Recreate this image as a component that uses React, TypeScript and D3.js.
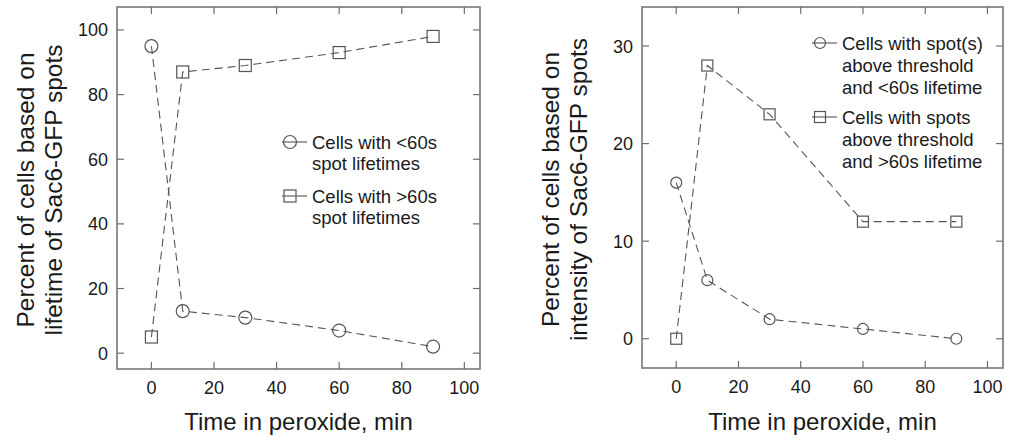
import React from "react";
import * as d3 from "d3";

const times = [0, 10, 30, 60, 90];
const lifetimeShort = [95, 13, 11, 7, 2];
const lifetimeLong = [5, 87, 89, 93, 98];
const intensityShort = [16, 6, 2, 1, 0];
const intensityLong = [0, 28, 23, 12, 12];
const xTicks = [0, 20, 40, 60, 80, 100];
const leftYTicks = [0, 20, 40, 60, 80, 100];
const rightYTicks = [0, 10, 20, 30];

const FONT = "'Liberation Sans', Arial, Helvetica, sans-serif";
const FRAME = "#6e6e6e";
const MARK = "#555";
const TEXT = "#1a1a1a";

type PanelProps = {
  x0: number; x1: number; y0: number; y1: number;
  yDomain: [number, number];
  yTicks: number[];
  circles: number[]; squares: number[];
  titleLines: string[];
  titleX: number[];
  legend: { circle: string[]; square: string[] };
  legendX: number; legendY: number[]; legendLineH: number;
  r: number; sq: number;
};

function Marker({ kind, x, y, r, sq }: { kind: string; x: number; y: number; r: number; sq: number }) {
  if (kind === "circle") return <circle cx={x} cy={y} r={r} fill="none" stroke={MARK} strokeWidth={1.2} />;
  return <rect x={x - sq / 2} y={y - sq / 2} width={sq} height={sq} fill="none" stroke={MARK} strokeWidth={1.2} />;
}

function Panel(p: PanelProps) {
  const xs = d3.scaleLinear().domain([-11, 105]).range([p.x0, p.x1]);
  const ys = d3.scaleLinear().domain(p.yDomain).range([p.y1, p.y0]);
  const line = d3.line<number>().x((_, i) => xs(times[i])).y((d) => ys(d));
  const tl = 7;
  const cx = (p.x0 + p.x1) / 2;
  const cy = (p.y0 + p.y1) / 2;
  const series = [
    { kind: "circle", data: p.circles, label: p.legend.circle },
    { kind: "square", data: p.squares, label: p.legend.square },
  ];
  return (
    <g>
      <rect x={p.x0} y={p.y0} width={p.x1 - p.x0} height={p.y1 - p.y0} fill="none" stroke={FRAME} strokeWidth={1.5} />
      {xTicks.map((t) => (
        <g key={"x" + t}>
          <line x1={xs(t)} x2={xs(t)} y1={p.y1} y2={p.y1 - tl} stroke={FRAME} strokeWidth={1.2} />
          <line x1={xs(t)} x2={xs(t)} y1={p.y0} y2={p.y0 + tl} stroke={FRAME} strokeWidth={1.2} />
          <text x={xs(t)} y={p.y1 + 25} textAnchor="middle" fontFamily={FONT} fontSize={18} fill={TEXT}>{t}</text>
        </g>
      ))}
      {p.yTicks.map((t) => (
        <g key={"y" + t}>
          <line x1={p.x0} x2={p.x0 + tl} y1={ys(t)} y2={ys(t)} stroke={FRAME} strokeWidth={1.2} />
          <line x1={p.x1} x2={p.x1 - tl} y1={ys(t)} y2={ys(t)} stroke={FRAME} strokeWidth={1.2} />
          <text x={p.x0 - 9} y={ys(t) + 6.5} textAnchor="end" fontFamily={FONT} fontSize={18} fill={TEXT}>{t}</text>
        </g>
      ))}
      {series.map((s) => (
        <g key={s.kind}>
          <path d={line(s.data) || ""} fill="none" stroke={MARK} strokeWidth={1.1} strokeDasharray="8,5" />
          {s.data.map((v, i) => (
            <Marker key={i} kind={s.kind} x={xs(times[i])} y={ys(v)} r={p.r} sq={p.sq} />
          ))}
        </g>
      ))}
      {series.map((s, si) => (
        <g key={"leg" + si}>
          <line x1={p.legendX - 8} x2={p.legendX + 17} y1={p.legendY[si]} y2={p.legendY[si]} stroke={MARK} strokeWidth={1.1} />
          <Marker kind={s.kind} x={p.legendX} y={p.legendY[si]} r={p.r} sq={p.sq} />
          {s.label.map((l, li) => (
            <text key={li} x={p.legendX + 22} y={p.legendY[si] + 6.5 + li * p.legendLineH} fontFamily={FONT} fontSize={18.5} fill={TEXT}>{l}</text>
          ))}
        </g>
      ))}
      <text x={cx} y={430} textAnchor="middle" fontFamily={FONT} fontSize={24} fill={TEXT}>Time in peroxide, min</text>
      {p.titleLines.map((l, i) => (
        <text key={i} transform={`translate(${p.titleX[i]},${cy + 2}) rotate(-90)`} textAnchor="middle" fontFamily={FONT} fontSize={24.5} fill={TEXT}>{l}</text>
      ))}
    </g>
  );
}

export default function App() {
  return (
    <svg width={1011} height={443} style={{ position: "absolute", left: 0, top: 0, background: "#fff" }}>
      <rect width={1011} height={443} fill="#fff" />
      <Panel
        x0={117} x1={480} y0={7} y1={369}
        yDomain={[-4.9, 107.1]} yTicks={leftYTicks}
        circles={lifetimeShort} squares={lifetimeLong}
        titleLines={["Percent of cells based on", "lifetime of Sac6-GFP spots"]}
        titleX={[34, 62]}
        legend={{ circle: ["Cells with <60s", "spot lifetimes"], square: ["Cells with >60s", "spot lifetimes"] }}
        legendX={290} legendY={[142, 196]} legendLineH={21}
        r={6.5} sq={12}
      />
      <Panel
        x0={642} x1={1003} y0={7} y1={368}
        yDomain={[-3, 34]} yTicks={rightYTicks}
        circles={intensityShort} squares={intensityLong}
        titleLines={["Percent of cells based on", "intensity of Sac6-GFP spots"]}
        titleX={[559, 587]}
        legend={{
          circle: ["Cells with spot(s)", "above threshold", "and <60s lifetime"],
          square: ["Cells with spots", "above threshold", "and >60s lifetime"],
        }}
        legendX={820} legendY={[43, 117]} legendLineH={22}
        r={5.5} sq={11}
      />
    </svg>
  );
}
